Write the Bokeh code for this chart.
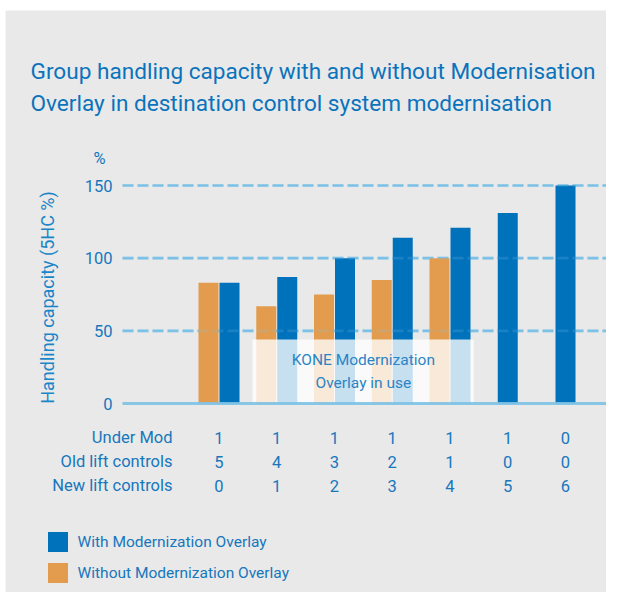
import numpy as np
from bokeh.plotting import figure
from bokeh.models import Range1d, ColumnDataSource, Legend, LegendItem
from bokeh.core.properties import value
from bokeh.embed import file_html
from bokeh.resources import INLINE

# ---------------- data ----------------
title_lines = ["Group handling capacity with and without Modernisation",
               "Overlay in destination control system modernisation"]
groups = [0, 1, 2, 3, 4, 5, 6]
with_overlay = [83, 87, 100, 114, 121, 131, 150]
without_overlay = [83, 67, 75, 85, 100, None, None]
y_ticks = [0, 50, 100, 150]
y_tick_labels = ["0", "50", "100", "150"]
row_names = ["Under Mod", "Old lift controls", "New lift controls"]
under_mod = [1, 1, 1, 1, 1, 1, 0]
old_controls = [5, 4, 3, 2, 1, 0, 0]
new_controls = [0, 1, 2, 3, 4, 5, 6]
y_label = "Handling capacity (5HC %)"
unit_label = "%"
overlay_note = ["KONE Modernization", "Overlay in use"]
legend_labels = ["With Modernization Overlay", "Without Modernization Overlay"]

# ---------------- style / layout ----------------
BG = "#E9E9E9"
BLUE = "#0072BC"
ORANGE = "#E39C4E"
GRID = "#7DC2E6"
TITLE_C = "#0B73BC"
TXT = "#1677BD"
FONT_NAME = "Roboto"
FONT = value(FONT_NAME)

W, H = 606, 592
CX0, DX = 218.5, 57.75          # pixel x of group 0, pixels per group
Y0, KY = 403.0, 218.0 / 150.0   # pixel y of value 0, pixels per unit


def dx(px):
    return (px - CX0) / DX


def dy(py):
    return (Y0 - py) / KY


p = figure(width=W, height=H,
           x_range=Range1d(dx(0), dx(W)),
           y_range=Range1d(dy(H), dy(0)),
           x_axis_type=None, y_axis_type=None,
           toolbar_location=None, output_backend="svg", min_border=0)
p.grid.visible = False
p.outline_line_color = None
p.background_fill_color = "white"
p.border_fill_color = "white"

# grey panel
p.quad(left=[dx(5)], right=[dx(W + 10)], bottom=[dy(H + 10)], top=[dy(10)],
       fill_color=BG, line_color=None)

bw = 20.0 / DX
off = 10.5 / DX
has_without = [v is not None for v in without_overlay]
src = ColumnDataSource(dict(
    x_with=[g + (off if h else 0.0) for g, h in zip(groups, has_without)],
    x_without=[g - off for g in groups],
    w=with_overlay,
    wo=[np.nan if v is None else v for v in without_overlay],
))

gx0, gx1 = dx(122), dx(609)
grid_y = y_ticks[1:]

# gridlines (under bars)
p.segment(x0=[gx0] * len(grid_y), x1=[gx1] * len(grid_y), y0=grid_y, y1=grid_y,
          line_color=GRID, line_width=2.6, line_dash="11 4")

r_without = p.vbar(x="x_without", top="wo", bottom=0, width=bw, source=src,
                   fill_color=ORANGE, line_color=None)
r_with = p.vbar(x="x_with", top="w", bottom=0, width=bw, source=src,
                fill_color=BLUE, line_color=None)

# faint gridlines over bars
p.segment(x0=[gx0] * len(grid_y), x1=[gx1] * len(grid_y), y0=grid_y, y1=grid_y,
          line_color=GRID, line_width=2.6, line_dash="11 4", line_alpha=0.2)

# overlay box
p.quad(left=[1 - 0.42], right=[4 + 0.41], bottom=[0], top=[44],
       fill_color="white", fill_alpha=0.78, line_color=None)
p.text(x=[2.5, 2.5], y=[dy(359), dy(382)], text=overlay_note,
       text_font=FONT, text_font_size="15.5px", text_color="#2A85C6",
       text_align="center", text_baseline="middle")

# baseline
p.segment(x0=[gx0], x1=[gx1], y0=[0], y1=[0], line_color=GRID,
          line_width=3, line_alpha=0.9)

# y tick labels
p.text(x=[dx(112)] * len(y_ticks), y=y_ticks, text=y_tick_labels,
       text_font=FONT, text_font_size="16.5px", text_color=TXT,
       text_align="right", text_baseline="middle")
p.text(x=[dx(99)], y=[dy(158)], text=[unit_label],
       text_font=FONT, text_font_size="16.5px", text_color=TXT,
       text_align="center", text_baseline="middle")
p.text(x=[dx(47)], y=[dy(297)], text=[y_label], angle=np.pi / 2,
       text_font=FONT, text_font_size="18px", text_color="#1A86C8",
       text_align="center", text_baseline="middle")

# title
p.text(x=[dx(30)] * 2, y=[dy(70.5), dy(102.5)], text=title_lines,
       text_font=FONT, text_font_size="22.6px", text_color=TITLE_C,
       text_align="left", text_baseline="alphabetic")

# table
row_y = [dy(437), dy(461), dy(485)]
p.text(x=[dx(172)] * 3, y=row_y, text=row_names,
       text_font=FONT, text_font_size="16.5px", text_color=TXT,
       text_align="right", text_baseline="middle")
for ry, vals in zip(row_y, [under_mod, old_controls, new_controls]):
    p.text(x=groups, y=[ry] * len(groups), text=[str(v) for v in vals],
           text_font=FONT, text_font_size="16.5px", text_color=TXT,
           text_align="center", text_baseline="middle")

legend = Legend(items=[LegendItem(label=legend_labels[0], renderers=[r_with]),
                       LegendItem(label=legend_labels[1], renderers=[r_without])],
                location=(44.5, H - 585.2), glyph_width=25, glyph_height=25,
                label_height=25, label_standoff=8, spacing=6,
                padding=0, margin=0, background_fill_alpha=0,
                border_line_color=None, label_text_font=FONT_NAME,
                label_text_font_size="15.5px", label_text_color=TXT)
p.add_layout(legend)

open("out.html", "w").write(file_html(p, INLINE))
